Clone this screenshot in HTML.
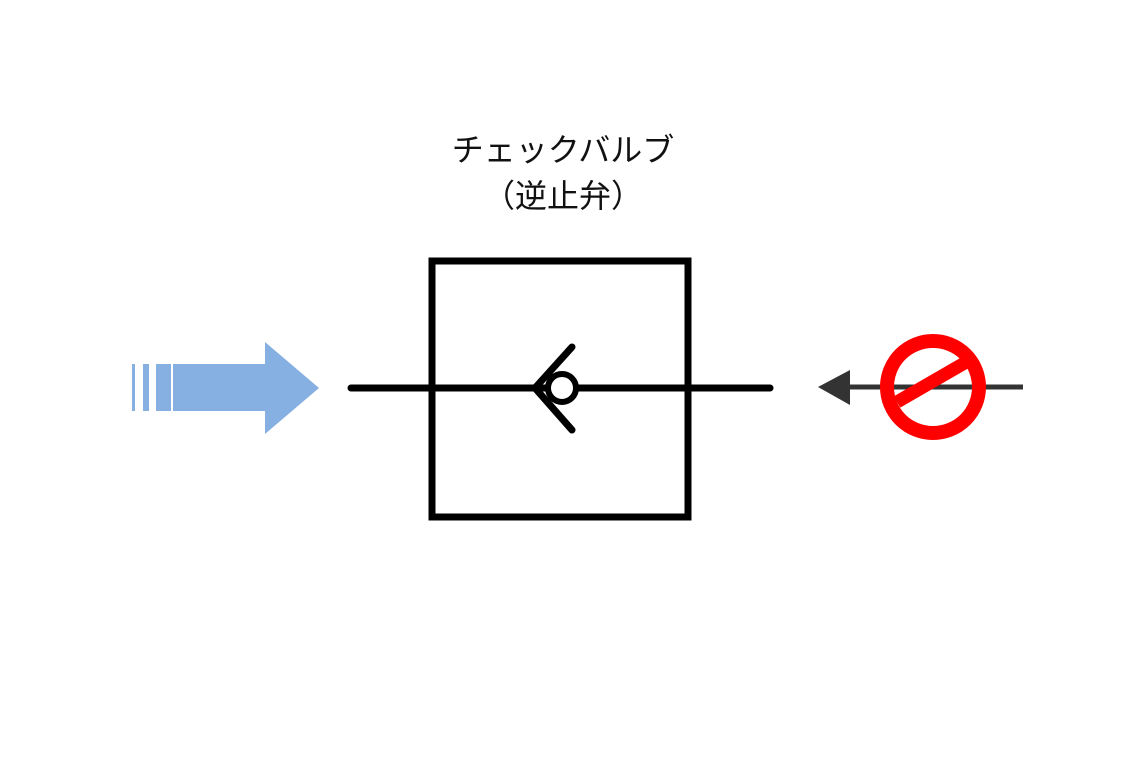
<!DOCTYPE html>
<html><head><meta charset="utf-8"><style>
body{margin:0;background:#fff;width:1122px;height:768px;overflow:hidden;position:relative;font-family:"Liberation Sans","Noto Sans CJK JP",sans-serif}
.t{position:absolute;left:0;width:1122px;text-align:center;font-size:32px;color:#111;line-height:1}
</style></head><body>
<div class="t" style="left:2px;top:134px">チェックバルブ</div>
<div class="t" style="left:2px;top:180px">（逆止弁）</div>
<svg width="1122" height="768" style="position:absolute;left:0;top:0">
<g fill="#87b0e2">
<rect x="132" y="364" width="3" height="47"/>
<rect x="143" y="364" width="6" height="47"/>
<rect x="156" y="364" width="15" height="47"/>
<rect x="173" y="364" width="93" height="47"/>
<polygon points="265,342 319,388 265,434"/>
</g>
<g stroke="#000" stroke-width="7" fill="none" stroke-linecap="round">
<rect x="432" y="261" width="256" height="256"/>
<line x1="351" y1="388" x2="770" y2="388"/>
<line x1="535" y1="388" x2="572" y2="347"/>
<line x1="535" y1="388" x2="572" y2="430"/>
</g>
<circle cx="562" cy="388" r="14" fill="#fff" stroke="#000" stroke-width="6"/>
<line x1="845" y1="387" x2="1023" y2="387" stroke="#333" stroke-width="5"/>
<polygon points="818,387 850,370 850,405" fill="#333"/>
<circle cx="933" cy="387" r="46" fill="none" stroke="#f00" stroke-width="14"/>
<line x1="897" y1="402" x2="968" y2="361" stroke="#f00" stroke-width="13"/>
</svg>
</body></html>
